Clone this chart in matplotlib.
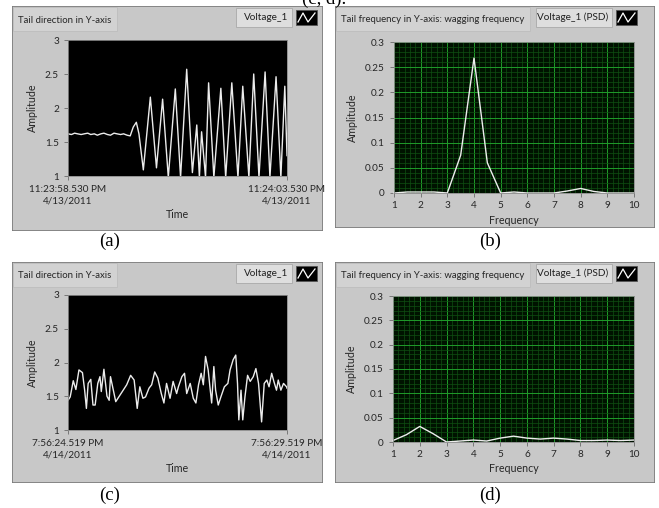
import matplotlib
matplotlib.use('Agg')
import matplotlib.pyplot as plt
from matplotlib.patches import Rectangle
from matplotlib.ticker import MultipleLocator

W, H = 659, 508

# (a) tail direction, 4/13/2011 (seconds from start, amplitude)
t_a = [0.00, 0.08, 0.15, 0.22, 0.30, 0.37, 0.45, 0.52, 0.60, 0.67,
       0.75, 0.82, 0.90, 0.97, 1.05, 1.12, 1.20, 1.27, 1.35, 1.42,
       1.49, 1.56, 1.62, 1.72, 1.88, 2.02, 2.16, 2.29, 2.45, 2.57,
       2.71, 2.84, 2.94, 3.00, 3.05, 3.14, 3.21, 3.33, 3.49, 3.60,
       3.74, 3.88, 3.99, 4.13, 4.24, 4.36, 4.50, 4.61, 4.75, 4.86,
       4.95, 5.00]
v_a = [1.62, 1.61, 1.63, 1.62, 1.61, 1.62, 1.63, 1.61, 1.62, 1.60,
       1.62, 1.63, 1.61, 1.60, 1.63, 1.62, 1.61, 1.62, 1.60, 1.59,
       1.72, 1.79, 1.62, 1.09, 2.16, 1.12, 2.13, 0.98, 2.28, 0.98,
       2.57, 1.05, 1.75, 0.98, 1.65, 0.98, 2.37, 0.98, 2.29, 0.98,
       2.37, 0.98, 2.32, 0.98, 2.50, 0.98, 2.53, 0.98, 2.46, 0.98,
       2.32, 1.30]

# (c) tail direction, 4/14/2011
t_c = [0.00, 0.05, 0.12, 0.18, 0.25, 0.33, 0.38, 0.42, 0.46, 0.52,
       0.57, 0.62, 0.68, 0.73, 0.76, 0.82, 0.89, 0.94, 0.97, 1.09,
       1.16, 1.26, 1.34, 1.43, 1.51, 1.58, 1.64, 1.71, 1.77, 1.85,
       1.91, 1.98, 2.05, 2.13, 2.19, 2.25, 2.33, 2.40, 2.48, 2.52,
       2.60, 2.66, 2.71, 2.79, 2.86, 2.92, 2.98, 3.04, 3.09, 3.14,
       3.20, 3.24, 3.28, 3.33, 3.37, 3.43, 3.49, 3.57, 3.65, 3.70,
       3.77, 3.83, 3.87, 3.90, 3.95, 3.99, 4.04, 4.10, 4.16, 4.23,
       4.29, 4.35, 4.42, 4.48, 4.54, 4.59, 4.65, 4.70, 4.76, 4.80,
       4.86, 4.92, 4.99, 5.00]
v_c = [1.44, 1.49, 1.73, 1.60, 1.89, 1.85, 1.59, 1.32, 1.69, 1.75,
       1.37, 1.37, 1.69, 1.79, 1.57, 1.90, 1.50, 1.44, 1.79, 1.42,
       1.49, 1.59, 1.67, 1.81, 1.74, 1.32, 1.64, 1.47, 1.49, 1.62,
       1.67, 1.86, 1.77, 1.54, 1.40, 1.69, 1.47, 1.72, 1.54, 1.64,
       1.79, 1.84, 1.54, 1.69, 1.47, 1.40, 1.67, 1.84, 1.67, 2.09,
       1.89, 1.64, 1.40, 1.94, 1.59, 1.37, 1.49, 1.64, 1.69, 1.89,
       2.04, 2.11, 1.69, 1.15, 1.59, 1.15, 1.49, 1.81, 1.72, 1.79,
       1.91, 1.69, 1.12, 1.69, 1.74, 1.64, 1.84, 1.72, 1.59, 1.74,
       1.59, 1.69, 1.64, 1.62]

# (b), (d) PSD
f_psd = [1, 1.5, 2, 2.5, 3, 3.5, 4, 4.5, 5, 5.5, 6, 6.5, 7, 7.5, 8, 8.5, 9, 9.5, 10]
p_b = [0, 0.002, 0.002, 0.002, 0, 0.075, 0.268, 0.06, 0, 0.002,
       0, 0, 0, 0.004, 0.009, 0.003, 0, 0, 0]
p_d = [0.003, 0.015, 0.032, 0.017, 0, 0.002, 0.004, 0.002, 0.008, 0.012,
       0.008, 0.006, 0.008, 0.006, 0.003, 0.003, 0.004, 0.003, 0.004]

y_time = [1, 1.5, 2, 2.5, 3]
y_psd = [0, 0.05, 0.1, 0.15, 0.2, 0.25, 0.3]
freq_ticks = [1, 2, 3, 4, 5, 6, 7, 8, 9, 10]

FONT = ['Lato', 'DejaVu Sans']
TXT = '#262626'
FS = 7.2

fig = plt.figure(figsize=(W / 100, H / 100), dpi=100)
fig.patch.set_facecolor('white')


def box(x0, y0, x1, y1):
    return [x0 / W, 1 - y1 / H, (x1 - x0) / W, (y1 - y0) / H]


def frame(x0, y0, x1, y1, title, tab_w, legend, lx0, lx1):
    fa = fig.add_axes(box(x0, y0, x1, y1))
    fa.set_xlim(x0, x1)
    fa.set_ylim(y1, y0)
    fa.axis('off')
    fa.add_patch(Rectangle((x0, y0), x1 - x0, y1 - y0, facecolor='#c8c8c8',
                           edgecolor='#7a7a7a', lw=1.2))
    # title tab
    fa.add_patch(Rectangle((x0 + 1, y0 + 1), tab_w, 24, facecolor='#d2d2d2',
                           edgecolor='#bdbdbd', lw=0.6))
    fa.text(x0 + 6, y0 + 14, title, fontsize=6.9, color=TXT, va='center',
            family=FONT)
    # legend
    fa.add_patch(Rectangle((lx0, y0 + 2), lx1 - lx0, 19, facecolor='#dedede',
                           edgecolor='#a8a8a8', lw=0.6))
    fa.text(lx1 - 4, y0 + 11.5, legend, fontsize=FS, color='#202020',
            va='center', ha='right', family=FONT)
    fa.add_patch(Rectangle((lx1 + 4, y0 + 4), 21, 15, facecolor='black',
                           edgecolor='#555555', lw=0.6))
    ix = [lx1 + 6, lx1 + 11, lx1 + 16, lx1 + 23]
    iy = [y0 + 16, y0 + 7, y0 + 16, y0 + 7]
    fa.plot(ix, iy, color='white', lw=0.9)
    return fa


def style(ax, ylab, xlab):
    for s in ax.spines.values():
        s.set_color('#8a8a8a')
        s.set_linewidth(0.6)
    ax.tick_params(colors='#6a6a6a', labelcolor=TXT, labelsize=FS,
                   length=3, width=0.6)
    for lab in ax.get_xticklabels() + ax.get_yticklabels():
        lab.set_family(FONT)
    ax.set_ylabel(ylab, fontsize=FS + 0.5, color=TXT, family=FONT, labelpad=5)
    ax.set_xlabel(xlab, fontsize=FS + 0.5, color=TXT, family=FONT, labelpad=3)


# ---------- (a)
frame(12, 6, 323, 231, 'Tail direction in Y-axis', 104, 'Voltage_1', 236, 292)
ax = fig.add_axes(box(68, 40, 287, 176))
ax.set_facecolor('black')
ax.plot(t_a, v_a, color='#ececec', lw=1.0)
ax.set_xlim(0, 5)
ax.set_ylim(1, 3)
ax.set_yticks(y_time)
ax.set_yticklabels(['1', '1.5', '2', '2.5', '3'])
ax.set_xticks([0, 5])
ax.set_xticklabels(['11:23:58.530 PM\n4/13/2011', '11:24:03.530 PM\n4/13/2011'],
                   linespacing=1.3)
style(ax, 'Amplitude', 'Time')

# ---------- (c)
frame(12, 262, 323, 483, 'Tail direction in Y-axis', 104, 'Voltage_1', 236, 292)
ax = fig.add_axes(box(68, 295, 287, 430))
ax.set_facecolor('black')
ax.plot(t_c, v_c, color='#ececec', lw=1.0)
ax.set_xlim(0, 5)
ax.set_ylim(1, 3)
ax.set_yticks(y_time)
ax.set_yticklabels(['1', '1.5', '2', '2.5', '3'])
ax.set_xticks([0, 5])
ax.set_xticklabels(['7:56:24.519 PM\n4/14/2011', '7:56:29.519 PM\n4/14/2011'],
                   linespacing=1.3)
style(ax, 'Amplitude', 'Time')


def psd_axes(b, p):
    ax = fig.add_axes(box(*b))
    ax.set_facecolor('#001200')
    ax.set_xlim(1, 10)
    ax.set_ylim(0, 0.3)
    ax.xaxis.set_minor_locator(MultipleLocator(0.2))
    ax.yaxis.set_minor_locator(MultipleLocator(0.01))
    ax.grid(which='minor', color='#0f4f12', lw=0.5)
    ax.grid(which='major', color='#1f9c2a', lw=0.7)
    ax.set_axisbelow(True)
    ax.plot(f_psd, p, color='#ededed', lw=1.0, clip_on=False)
    ax.set_xticks(freq_ticks)
    ax.set_yticks(y_psd)
    ax.set_yticklabels(['0', '0.05', '0.1', '0.15', '0.2', '0.25', '0.3'])
    ax.tick_params(which='minor', length=0, colors='#6a6a6a')
    style(ax, 'Amplitude', 'Frequency')
    ax.tick_params(axis='x', pad=3)
    return ax


# ---------- (b)
frame(335, 6, 655, 228, 'Tail frequency in Y-axis: wagging frequency', 194,
      'Voltage_1 (PSD)', 536, 612)
psd_axes((394, 42, 634, 193), p_b)

# ---------- (d)
frame(335, 262, 655, 483, 'Tail frequency in Y-axis: wagging frequency', 194,
      'Voltage_1 (PSD)', 536, 612)
psd_axes((393, 296, 634, 442), p_d)

# panel captions
for x, y, s in [(110, 241, '(a)'), (490, 241, '(b)'),
                (110, 495, '(c)'), (490, 495, '(d)')]:
    fig.text(x / W, 1 - y / H, s, fontsize=13.5, family='Liberation Serif',
             ha='center', va='center')
fig.text(324 / W, 1 - 4 / H, '(c, d).', fontsize=13.5, family='Liberation Serif',
         ha='center', va='baseline')

fig.savefig('out.png', dpi=100)
